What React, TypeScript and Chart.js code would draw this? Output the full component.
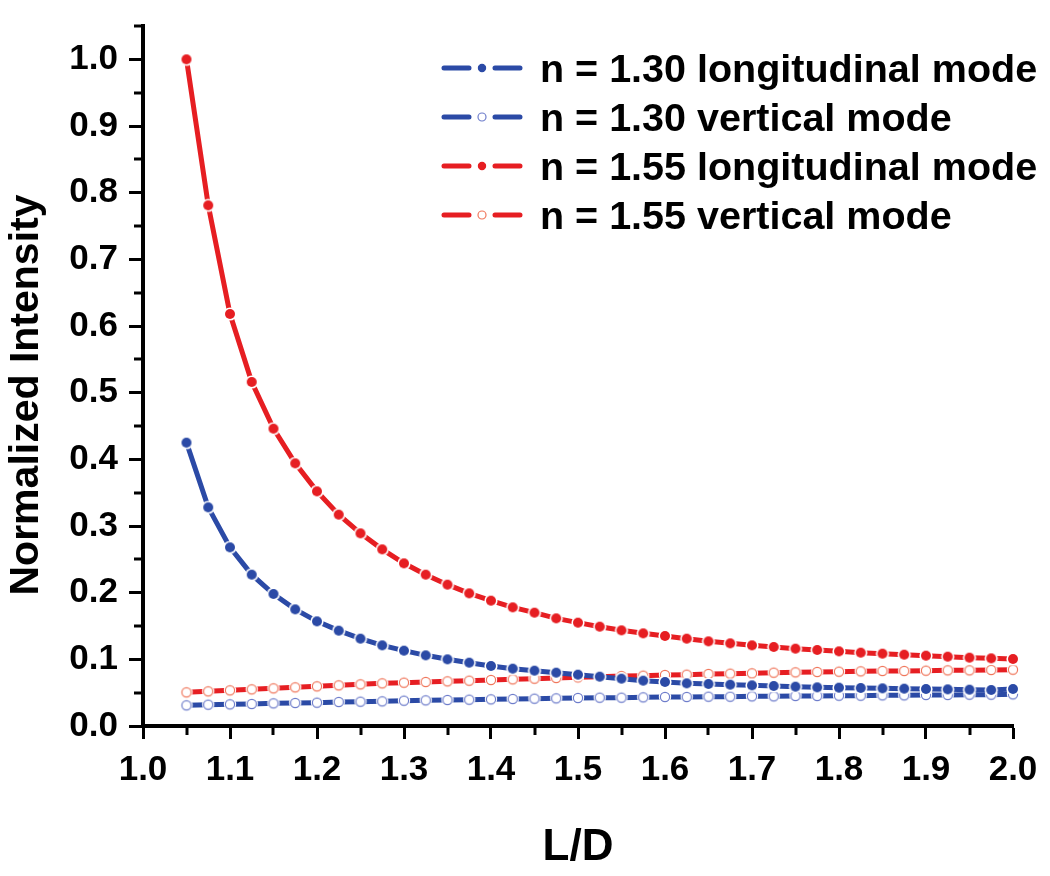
import React, { useEffect, useRef } from 'react';
import { Chart, registerables } from 'chart.js';

Chart.register(...registerables);

// ---- data ----
const LD = [
  1.05, 1.075, 1.1, 1.125, 1.15, 1.175, 1.2, 1.225, 1.25, 1.275,
  1.3, 1.325, 1.35, 1.375, 1.4, 1.425, 1.45, 1.475, 1.5, 1.525,
  1.55, 1.575, 1.6, 1.625, 1.65, 1.675, 1.7, 1.725, 1.75, 1.775,
  1.8, 1.825, 1.85, 1.875, 1.9, 1.925, 1.95, 1.975, 2.0,
];

const blueLongitudinal = [
  0.425, 0.328, 0.268, 0.227, 0.198, 0.175, 0.157, 0.143, 0.131, 0.121,
  0.113, 0.106, 0.100, 0.095, 0.090, 0.086, 0.083, 0.080, 0.077, 0.074,
  0.071, 0.068, 0.066, 0.064, 0.063, 0.062, 0.061, 0.060, 0.059, 0.058,
  0.0575, 0.057, 0.0565, 0.056, 0.0555, 0.055, 0.0545, 0.054, 0.0555,
];

const blueVertical = [
  0.031, 0.032, 0.0325, 0.033, 0.034, 0.0345, 0.035, 0.036, 0.0365, 0.037,
  0.038, 0.0385, 0.039, 0.0395, 0.040, 0.0405, 0.041, 0.0415, 0.042, 0.0425,
  0.0425, 0.043, 0.0435, 0.0435, 0.044, 0.044, 0.0445, 0.0445, 0.045, 0.045,
  0.0455, 0.0455, 0.046, 0.046, 0.0465, 0.0465, 0.047, 0.047, 0.0475,
];

const redLongitudinal = [
  1.0, 0.781, 0.618, 0.516, 0.446, 0.394, 0.352, 0.317, 0.289, 0.265,
  0.244, 0.227, 0.212, 0.199, 0.188, 0.178, 0.170, 0.1615, 0.155, 0.149,
  0.1435, 0.139, 0.135, 0.131, 0.127, 0.124, 0.121, 0.1185, 0.116, 0.114,
  0.112, 0.110, 0.1085, 0.107, 0.1055, 0.104, 0.1025, 0.1015, 0.1005,
];

const redVertical = [
  0.0505, 0.052, 0.0535, 0.055, 0.0565, 0.058, 0.0595, 0.061, 0.0625, 0.064,
  0.065, 0.066, 0.067, 0.068, 0.069, 0.070, 0.071, 0.072, 0.073, 0.074,
  0.075, 0.0755, 0.0765, 0.077, 0.078, 0.0785, 0.079, 0.080, 0.0805, 0.081,
  0.0815, 0.082, 0.0825, 0.0825, 0.083, 0.0835, 0.0835, 0.084, 0.0845,
];

const SERIES_LABELS = [
  'n = 1.30 longitudinal mode',
  'n = 1.30 vertical mode',
  'n = 1.55 longitudinal mode',
  'n = 1.55 vertical mode',
];

const X_TICKS = [1.0, 1.1, 1.2, 1.3, 1.4, 1.5, 1.6, 1.7, 1.8, 1.9, 2.0];
const Y_TICKS = [0.0, 0.1, 0.2, 0.3, 0.4, 0.5, 0.6, 0.7, 0.8, 0.9, 1.0];
const X_MINOR_TICKS = [1.05, 1.15, 1.25, 1.35, 1.45, 1.55, 1.65, 1.75, 1.85, 1.95];
const Y_MINOR_TICKS = [0.05, 0.15, 0.25, 0.35, 0.45, 0.55, 0.65, 0.75, 0.85, 0.95, 1.05];

const X_TITLE = 'L/D';
const Y_TITLE = 'Normalized Intensity';

const BLUE = '#2B4AA6';
const RED = '#E61E22';
const BLUE_OPEN = '#6E7DCB';
const RED_OPEN = '#F0775C';
const FONT = "'Liberation Sans', Arial, Helvetica, sans-serif";

const toPoints = (ys: number[]) => LD.map((x, i) => ({ x, y: ys[i] }));

// marker images: a white halo (Origin's line gap) around a filled or open circle
function makeMarker(fill: string, stroke: string, r: number, strokeW: number): HTMLCanvasElement {
  const size = 18;
  const c = document.createElement('canvas');
  c.width = size;
  c.height = size;
  const g = c.getContext('2d') as CanvasRenderingContext2D;
  const m = size / 2;
  g.beginPath();
  g.arc(m, m, r + 1.6, 0, Math.PI * 2);
  g.fillStyle = '#ffffff';
  g.fill();
  g.beginPath();
  g.arc(m, m, r, 0, Math.PI * 2);
  g.fillStyle = fill;
  g.fill();
  if (strokeW > 0) {
    g.lineWidth = strokeW;
    g.strokeStyle = stroke;
    g.stroke();
  }
  return c;
}

const minorTicksPlugin = {
  id: 'minorTicks',
  afterDraw(chart: any) {
    const { ctx, chartArea } = chart;
    const xs = chart.scales.x;
    const ys = chart.scales.y;
    ctx.save();
    ctx.strokeStyle = '#000';
    ctx.lineWidth = 3;
    for (const v of X_MINOR_TICKS) {
      const px = Math.round(xs.getPixelForValue(v));
      ctx.beginPath();
      ctx.moveTo(px, chartArea.bottom);
      ctx.lineTo(px, chartArea.bottom + 9);
      ctx.stroke();
    }
    for (const v of Y_MINOR_TICKS) {
      const py = Math.round(ys.getPixelForValue(v));
      ctx.beginPath();
      ctx.moveTo(chartArea.left, py);
      ctx.lineTo(chartArea.left - 9, py);
      ctx.stroke();
    }
    ctx.restore();
  },
};

const yTitlePlugin = {
  id: 'yTitle',
  afterDraw(chart: any) {
    const { ctx } = chart;
    ctx.save();
    ctx.translate(27, 395);
    ctx.rotate(-Math.PI / 2);
    ctx.fillStyle = '#000';
    ctx.font = `bold 41px ${FONT}`;
    ctx.textAlign = 'center';
    ctx.textBaseline = 'middle';
    ctx.fillText(Y_TITLE, 0, 0);
    ctx.restore();
  },
};

const legendPlugin = {
  id: 'insideLegend',
  afterDraw(chart: any) {
    const { ctx } = chart;
    const x0 = 442;
    const y0 = 68;
    const rowH = 49;
    ctx.save();
    chart.data.datasets.forEach((ds: any, i: number) => {
      const y = y0 + i * rowH;
      ctx.strokeStyle = ds.borderColor;
      ctx.lineWidth = 5;
      ctx.lineCap = 'round';
      ctx.beginPath();
      ctx.moveTo(x0 + 2, y);
      ctx.lineTo(x0 + 27, y);
      ctx.moveTo(x0 + 53, y);
      ctx.lineTo(x0 + 78, y);
      ctx.stroke();
      ctx.beginPath();
      ctx.arc(x0 + 40, y, ds.legendRadius, 0, Math.PI * 2);
      ctx.fillStyle = ds.legendFill;
      ctx.fill();
      ctx.lineWidth = 1.2;
      ctx.strokeStyle = ds.legendStroke;
      ctx.stroke();
      ctx.fillStyle = '#000';
      ctx.font = `bold 39.5px ${FONT}`;
      ctx.textBaseline = 'alphabetic';
      ctx.textAlign = 'left';
      ctx.fillText(ds.label, 540, y + 14);
    });
    ctx.restore();
  },
};

export default function App() {
  const ref = useRef<HTMLCanvasElement | null>(null);

  useEffect(() => {
    document.body.style.margin = '0';
    const canvas = ref.current;
    if (!canvas) return;

    const lineCommon = {
      borderWidth: 5,
      tension: 0,
      clip: false as any,
      pointRadius: 6,
      pointHoverRadius: 6,
    };

    const datasets: any[] = [
      {
        ...lineCommon,
        label: SERIES_LABELS[0],
        data: toPoints(blueLongitudinal),
        borderColor: BLUE,
        pointStyle: makeMarker(BLUE, BLUE, 5, 0),
        legendFill: BLUE,
        legendStroke: BLUE,
        legendRadius: 3.6,
        order: 2,
      },
      {
        ...lineCommon,
        label: SERIES_LABELS[1],
        data: toPoints(blueVertical),
        borderColor: BLUE,
        pointStyle: makeMarker('#ffffff', BLUE_OPEN, 4.6, 1.2),
        legendFill: '#ffffff',
        legendStroke: BLUE_OPEN,
        legendRadius: 4,
        order: 4,
      },
      {
        ...lineCommon,
        label: SERIES_LABELS[2],
        data: toPoints(redLongitudinal),
        borderColor: RED,
        pointStyle: makeMarker(RED, RED, 5, 0),
        legendFill: RED,
        legendStroke: RED,
        legendRadius: 3.6,
        order: 1,
      },
      {
        ...lineCommon,
        label: SERIES_LABELS[3],
        data: toPoints(redVertical),
        borderColor: RED,
        pointStyle: makeMarker('#ffffff', RED_OPEN, 4.6, 1.2),
        legendFill: '#ffffff',
        legendStroke: RED_OPEN,
        legendRadius: 4,
        order: 3,
      },
    ];

    const chart = new Chart(canvas, {
      type: 'line',
      data: { datasets },
      options: {
        responsive: false,
        animation: false,
        events: [],
        layout: { padding: { top: 26, right: 37, bottom: 0, left: 0 } },
        plugins: {
          legend: { display: false },
          tooltip: { enabled: false },
        },
        scales: {
          x: {
            type: 'linear',
            min: 1.0,
            max: 2.0,
            afterBuildTicks: (s: any) => {
              s.ticks = X_TICKS.map((value) => ({ value }));
            },
            afterFit: (s: any) => {
              s.height = 150;
              s.paddingLeft = 0;
              s.paddingRight = 0;
            },
            border: { display: true, width: 4, color: '#000' },
            grid: {
              drawOnChartArea: false,
              drawTicks: true,
              tickLength: 13,
              tickWidth: 3,
              tickColor: '#000',
            },
            ticks: {
              autoSkip: false,
              maxRotation: 0,
              padding: 10,
              color: '#000',
              font: { family: FONT, size: 35, weight: 'bold' },
              callback: (v: any) => Number(v).toFixed(1),
            },
            title: {
              display: true,
              text: X_TITLE,
              color: '#000',
              font: { family: FONT, size: 44, weight: 'bold' },
              padding: { top: 0, bottom: 2 },
            },
          },
          y: {
            type: 'linear',
            min: 0,
            max: 1.05,
            afterBuildTicks: (s: any) => {
              s.ticks = Y_TICKS.map((value) => ({ value }));
            },
            afterFit: (s: any) => {
              s.width = 143;
              s.paddingTop = 0;
              s.paddingBottom = 0;
            },
            border: { display: true, width: 4, color: '#000' },
            grid: {
              drawOnChartArea: false,
              drawTicks: true,
              tickLength: 14,
              tickWidth: 3,
              tickColor: '#000',
            },
            ticks: {
              autoSkip: false,
              padding: 11,
              color: '#000',
              font: { family: FONT, size: 35, weight: 'bold' },
              callback: (v: any) => Number(v).toFixed(1),
            },
            title: { display: false, text: Y_TITLE },
          },
        },
      } as any,
      plugins: [minorTicksPlugin, yTitlePlugin, legendPlugin],
    });

    return () => chart.destroy();
  }, []);

  return (
    <canvas
      ref={ref}
      width={1050}
      height={876}
      style={{ position: 'absolute', left: 0, top: 0, width: 1050, height: 876 }}
    />
  );
}
